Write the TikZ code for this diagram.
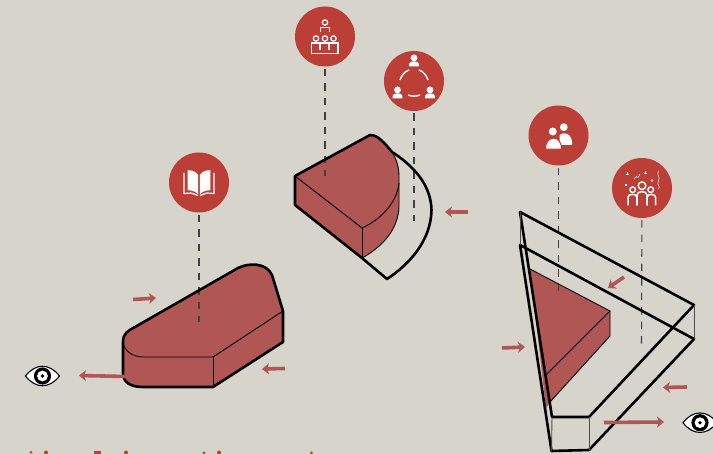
\documentclass[tikz,border=0pt]{standalone}
\usetikzlibrary{arrows.meta}
\usepackage{xcolor}
\definecolor{wallGrey}{HTML}{D6D4CB}
\definecolor{badgeRed}{HTML}{BC3F37}
\definecolor{massRed}{HTML}{B05654}
\tikzset{
  personicon/.pic={
    \fill[white] (0,-3.6) circle (3.4);
    \fill[white] (-4.8,5) -- (-4.8,2.2) .. controls (-4.8,-1) and (4.8,-1) .. (4.8,2.2) -- (4.8,5) -- cycle;
  },
  eyeicon/.pic={
    \draw[fill=white,line width=1.1pt] (-17,0) .. controls (-7,-13) and (7,-13) .. (17,0) .. controls (7,13) and (-7,13) .. (-17,0) -- cycle;
    \fill (0,0) circle (8.6);
    \fill[white] (0,0) circle (5.4);
    \fill (0,0) circle (1.9);
  }
}
\begin{document}
\begin{tikzpicture}[x=1pt,y=-1pt,
  badge/.style={circle,fill=badgeRed,minimum size=60pt,inner sep=0pt},
  leader/.style={dash pattern=on 7.5pt off 7pt,line width=1.1pt,black!75,shorten <=2pt},
  mass/.style={fill=massRed},
  edge/.style={line width=2.6pt,line join=round},
  fine/.style={line width=0.9pt},
  flow/.style={-{Stealth[length=7pt,width=11pt,inset=2pt]},line width=3.6pt,massRed},
  glyph/.style={white,line width=1.2pt}]
  \useasboundingbox (0,0) rectangle (713,454);
  \fill[wallGrey] (0,0) rectangle (713,454);

  % red volumes
  \fill[mass] (123,342) .. controls (123,333) and (128,331) .. (135,327) -- (238,268) .. controls (248,263) and (266,262) .. (272,275) -- (283,311) -- (283,342) -- (213,387) -- (143,387) .. controls (130,387) and (123,382) .. (123,373) -- cycle;
  \fill[mass] (295,176) -- (370,135) .. controls (375,135) and (380,137) .. (392,152) .. controls (397,160) and (399,168) .. (399,177) -- (399,207) .. controls (398,230) and (382,247) .. (362,258) -- (295,205) -- cycle;
  \fill[mass] (530,269) -- (610,311) -- (610,336) -- (550,402) -- (546,408) -- cycle;

  % badges
  \node[badge] (teach) at (325,36.5) {};
  \node[badge] (group) at (414,81) {};
  \node[badge] (book) at (199,182.5) {};
  \node[badge] (pair) at (558.5,135.5) {};
  \node[badge] (crowd) at (642,188) {};

  % leader lines
  \coordinate (teachend) at (325,176);
  \coordinate (groupend) at (414,221);
  \coordinate (bookend) at (199,322);
  \coordinate (pairend) at (558.5,296);
  \coordinate (crowdend) at (641.5,350);
  \draw[leader] (teach) -- (teachend);
  \draw[leader] (group) -- (groupend);
  \draw[leader] (book) -- (bookend);
  \draw[leader] (pair) -- (pairend);
  \draw[leader] (crowd) -- (crowdend);

  % left block
  \draw[edge] (123,342) .. controls (123,333) and (128,331) .. (135,327) -- (238,268) .. controls (248,263) and (266,262) .. (272,275) -- (283,311) -- (283,342) -- (213,387) -- (143,387) .. controls (130,387) and (123,382) .. (123,373) -- cycle;
  \draw[fine] (123,342) .. controls (124,351) and (133,357) .. (143,357) -- (213,357) -- (283,311);
  \draw[fine] (213,357) -- (213,387);

  % middle block
  \draw[edge] (392,152) .. controls (420,170) and (431,190) .. (431.5,210) .. controls (431,240) and (410,264) .. (387,279) -- (362,258) -- (295,205) -- (295,176) -- (370,135) .. controls (375,135) and (380,137) .. (392,152);
  \draw[fine] (392,152) .. controls (397,160) and (399,168) .. (399,177) -- (399,207) .. controls (398,230) and (382,247) .. (362,258);
  \draw[fine] (295,176) -- (362,228) .. controls (380,220) and (397,203) .. (399,183);
  \draw[fine] (362,228) -- (362,258);

  % right block
  \draw[fine] (530,269) -- (610,311) -- (610,336) -- (550,402);
  \draw[fine] (610,311) -- (546,375);
  \draw[edge] (520,212) -- (694,305) -- (589,417) -- (552,417) -- cycle;
  \draw[edge] (520,245) -- (694,339) -- (589,450) -- (551.5,451) -- cycle;
  \draw[fine,black!70] (520,212) -- (520,245);
  \draw[fine,black!70] (694,305) -- (694,339);
  \draw[fine,black!70] (552,417) -- (551.5,451);
  \draw[fine,black!70] (589,417) -- (589,450);

  % flow arrows
  \coordinate (flowAa) at (133,299.5);
  \coordinate (flowAb) at (156,298);
  \coordinate (flowBa) at (285,368.5);
  \coordinate (flowBb) at (262,369);
  \coordinate (flowCa) at (126,376.5);
  \coordinate (flowCb) at (79,375.5);
  \coordinate (flowDa) at (468,212);
  \coordinate (flowDb) at (445,212);
  \coordinate (flowEa) at (624,277);
  \coordinate (flowEb) at (608,288);
  \coordinate (flowFa) at (502,348);
  \coordinate (flowFb) at (525,347);
  \coordinate (flowGa) at (687,387);
  \coordinate (flowGb) at (663,387.5);
  \coordinate (flowHa) at (604,422.5);
  \coordinate (flowHb) at (664,422);
  \draw[flow] (flowAa) -- (flowAb);
  \draw[flow] (flowBa) -- (flowBb);
  \draw[flow] (flowCa) -- (flowCb);
  \draw[flow] (flowDa) -- (flowDb);
  \draw[flow] (flowEa) -- (flowEb);
  \draw[flow] (flowFa) -- (flowFb);
  \draw[flow] (flowGa) -- (flowGb);
  \draw[flow] (flowHa) -- (flowHb);

  % eyes
  \pic at (42.5,376) {eyeicon};
  \pic at (700,422.7) {eyeicon};

  % book glyph
  \begin{scope}[shift={(book)}]
    \fill[white] (-11.3,-12.3) .. controls (-7,-12.5) and (-3,-11) .. (-0.8,-7.3) -- (-0.8,12) .. controls (-3,9) and (-7,7.8) .. (-11.3,7.7) -- cycle;
    \fill[white] (11.3,-12.3) .. controls (7,-12.5) and (3,-11) .. (0.8,-7.3) -- (0.8,12) .. controls (3,9) and (7,7.8) .. (11.3,7.7) -- cycle;
    \draw[glyph] (-15,-9.7) -- (-15,11) -- (-8,10.5) -- (-1,13);
    \draw[glyph] (15,-9.7) -- (15,11) -- (8,10.5) -- (1,13);
  \end{scope}

  % lecture glyph
  \begin{scope}[shift={(teach)}]
    \draw[glyph] (0,-14) circle (2.7);
    \draw[glyph] (-4.5,-4.5) -- (-4.5,-9) -- (4.5,-9) -- (4.5,-4.5);
    \draw[glyph] (-9,2) circle (2.7);
    \draw[glyph] (0,2) circle (2.7);
    \draw[glyph] (8.5,2) circle (2.7);
    \draw[glyph] (-13.3,6.5) rectangle (13,17);
    \draw[glyph] (-5,6.5) -- (-5,13.5);
    \draw[glyph] (4,6.5) -- (4,13.5);
  \end{scope}

  % circle of people glyph
  \begin{scope}[shift={(group)}]
    \pic at (0,-19.5) {personicon};
    \pic at (-16.5,12.5) {personicon};
    \pic at (16,12.5) {personicon};
    \draw[glyph,line width=1.4pt] (-14,-1) .. controls (-12.5,-5.5) and (-9.5,-9.5) .. (-5,-11);
    \draw[glyph,line width=1.4pt] (14,-1) .. controls (12.5,-5.5) and (9.5,-9.5) .. (5,-11);
    \draw[glyph,line width=1.4pt] (-6,14) .. controls (-3,15.5) and (3,15.5) .. (6,14);
  \end{scope}

  % two people glyph
  \begin{scope}[shift={(pair)}]
    \fill[white] (5.3,-8.3) circle (3.9);
    \fill[white] (1,9.3) -- (1,-0.5) .. controls (5,-4) and (13.7,-3) .. (13.7,9.3) -- cycle;
    \fill[white,draw=badgeRed,line width=1pt] (-13,13.6) .. controls (-13.5,0) and (3,-2) .. (3,13.6) -- cycle;
    \fill[white] (-5.7,-4) circle (4);
  \end{scope}

  % crowd glyph
  \begin{scope}[shift={(crowd)}]
    \draw[glyph,line width=1.5pt] (-14,17.5) -- (-14,9) .. controls (-14,5.5) and (-5.2,5.5) .. (-5.2,9) -- (-5.2,17.5);
    \draw[glyph,line width=1.5pt] (-5,17.5) -- (-5,7) .. controls (-5,2.5) and (5,2.5) .. (5,7) -- (5,17.5);
    \draw[glyph,line width=1.5pt] (5.2,17.5) -- (5.2,9) .. controls (5.2,5.5) and (13.5,5.5) .. (13.5,9) -- (13.5,17.5);
    \fill[badgeRed] (-9.3,1.7) circle (3.6);
    \fill[badgeRed] (8.7,1.7) circle (3.6);
    \draw[glyph,line width=1.4pt] (0,-2.3) circle (3.8);
    \draw[glyph,line width=1.4pt] (-9.3,1.7) circle (2.8);
    \draw[glyph,line width=1.4pt] (8.7,1.7) circle (2.8);
    \draw[white,line width=0.4pt] (-16,-14) -- (-13,-14) (-14.5,-15.5) -- (-14.5,-12.5);
    \draw[white,line width=0.4pt] (2,-15) -- (5,-15) (3.5,-16.5) -- (3.5,-13.5);
    \draw[white,line width=0.5pt] (-8,-9) -- (-5.5,-11.5) -- (-4,-10.5) -- (-2,-14);
    \draw[white,line width=0.4pt] (10,-7.5) circle (1.2);
    \draw[white,line width=0.4pt] (-17,-4) -- (-17,-2) (-15.5,-4) -- (-15.5,-2);
    \draw[white,line width=0.5pt] (16.5,-17) .. controls (14,-13) and (19,-11) .. (16.5,-7) .. controls (14,-3) and (19,-2) .. (16.5,1);
  \end{scope}

  % heading tops cut by the frame
  \fill[badgeRed] (31,452.5) circle (1.5);
  \fill[badgeRed] (46,452.5) circle (2);
  \fill[badgeRed] (94,451.5) rectangle (101,454);
  \fill[badgeRed] (126,452.5) circle (2);
  \fill[badgeRed] (204,452.8) circle (1.5);
  \fill[badgeRed] (219,452.5) circle (2);
  \fill[badgeRed] (311.5,452.8) circle (1.5);
\end{tikzpicture}
\end{document}
